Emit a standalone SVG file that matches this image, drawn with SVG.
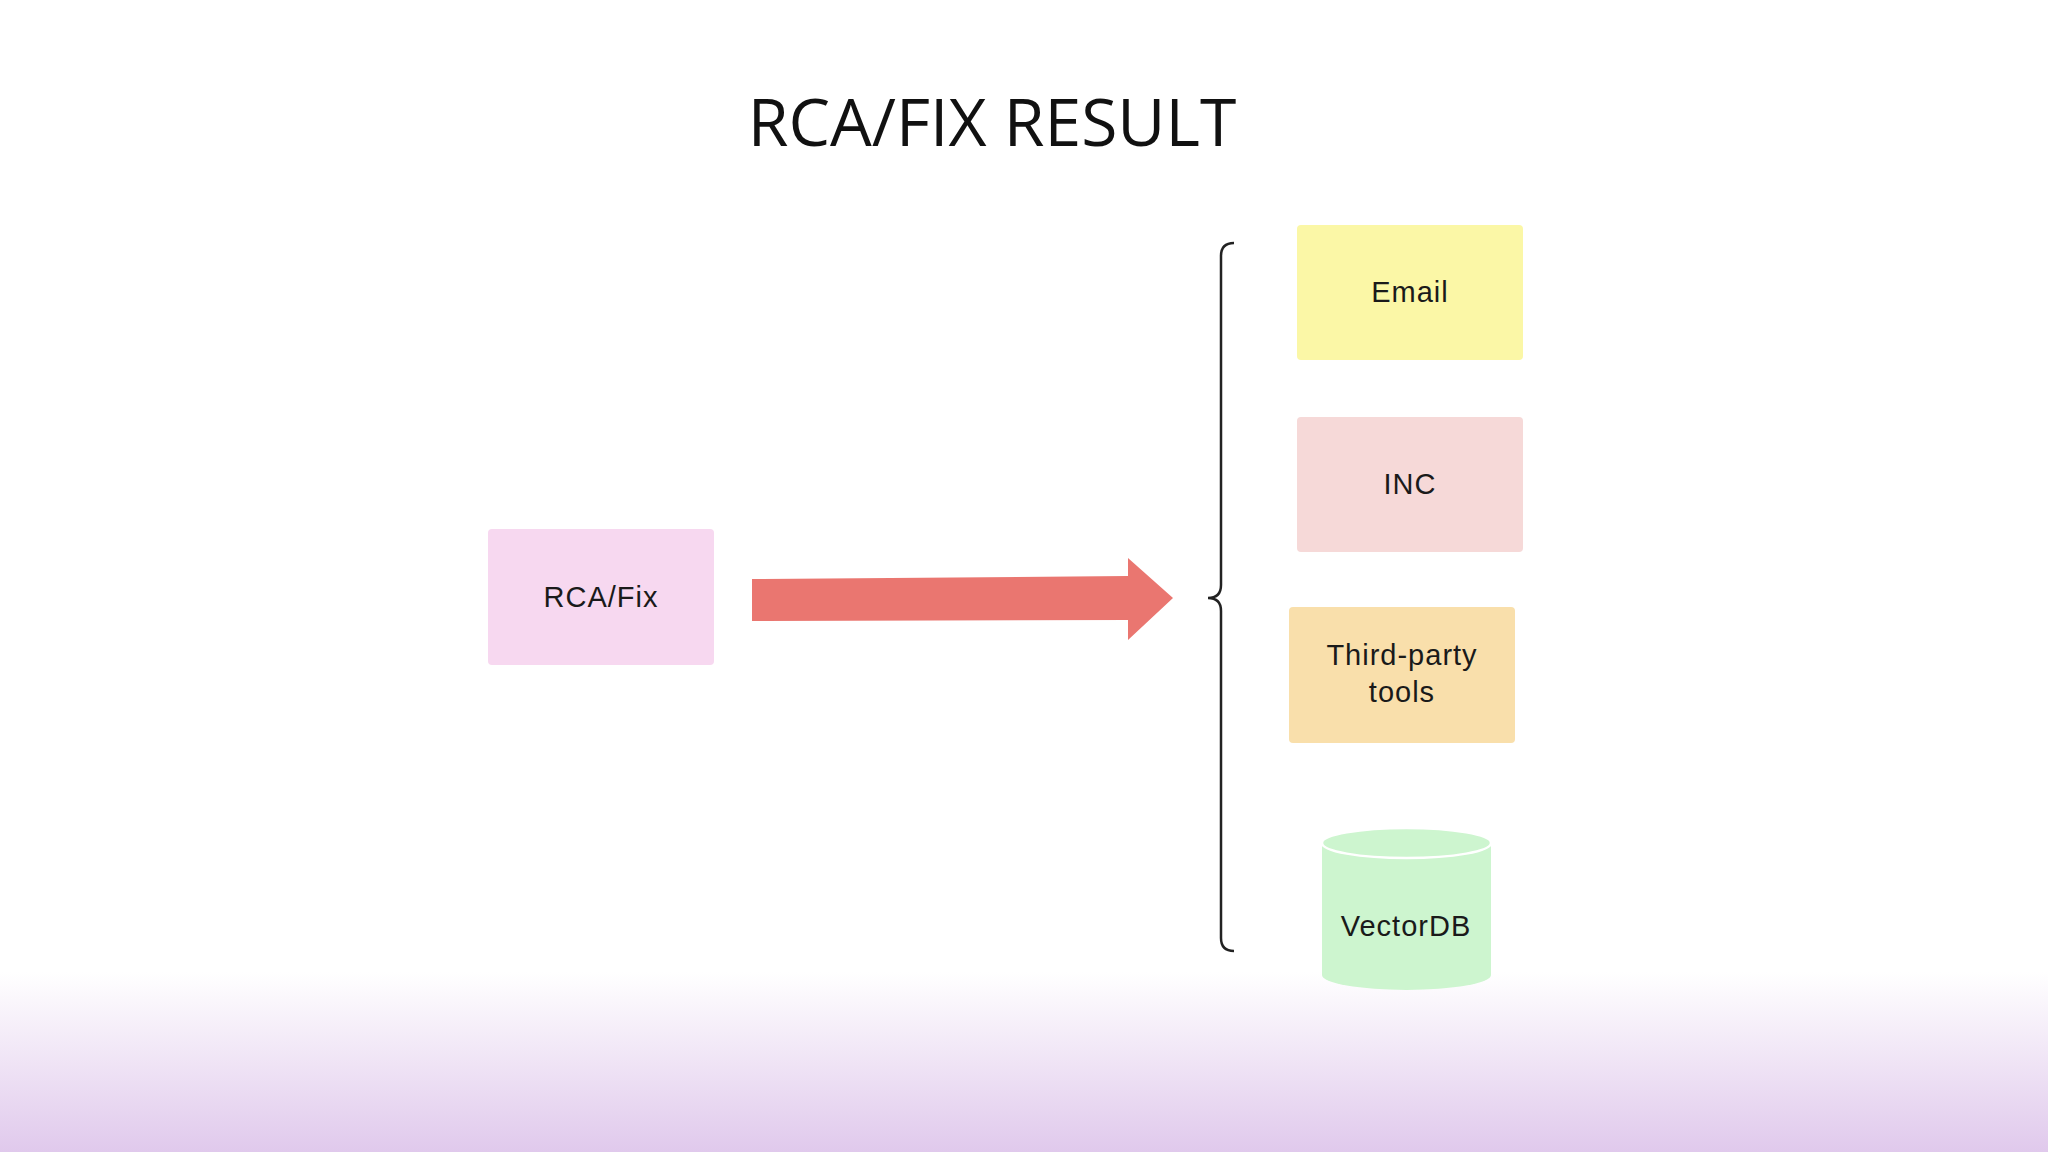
<svg xmlns="http://www.w3.org/2000/svg" width="2048" height="1152" viewBox="0 0 2048 1152">
<defs>
<linearGradient id="bg" x1="0" y1="0" x2="0" y2="1">
<stop offset="0" stop-color="#ffffff"/>
<stop offset="1" stop-color="#e0c9ec"/>
</linearGradient>
<style>
.lbl{font-family:"Liberation Sans","Noto Sans",sans-serif;font-size:29px;font-weight:500;letter-spacing:1px;fill:#1a1a1a;text-anchor:middle}
</style>
</defs>
<rect width="2048" height="1152" fill="#ffffff"/>
<rect x="0" y="972" width="2048" height="180" fill="url(#bg)"/>
<text x="992" y="146" font-family="Open Sans, Noto Sans, sans-serif" font-size="66" fill="#111" text-anchor="middle">RCA/FIX RESULT</text>
<g id="rcafix"><rect x="488" y="529" width="226" height="136" rx="4" fill="#f7d8f0"/><text class="lbl" x="601" y="607">RCA/Fix</text></g>
<g id="email"><rect x="1297" y="225" width="226" height="135" rx="4" fill="#fbf7a6"/><text class="lbl" x="1410" y="302">Email</text></g>
<g id="inc"><rect x="1297" y="417" width="226" height="135" rx="4" fill="#f6d9d8"/><text class="lbl" x="1410" y="494">INC</text></g>
<g id="third"><rect x="1289" y="607" width="226" height="136" rx="4" fill="#f9dfab"/><text class="lbl" x="1402" y="665">Third-party</text><text class="lbl" x="1402" y="702">tools</text></g>
<g id="vectordb"><path d="M1322 843 V975 A84.5 15 0 0 0 1491 975 V843" fill="#cdf5cf"/><ellipse cx="1406.5" cy="843" rx="84.5" ry="15" fill="#cdf5cf" stroke="#ffffff" stroke-width="2.5"/><text class="lbl" x="1406" y="936">VectorDB</text></g>
<g id="connectors">
<path d="M752 579 L1128 576 L1128 558 L1173 598 L1128 640 L1128 620 L752 621 Z" fill="#ea7670"/>
<path d="M1234 243 Q1221 243 1221 256 V585 Q1221 598 1208 598 Q1221 598 1221 611 V938 Q1221 951 1234 951" fill="none" stroke="#222" stroke-width="2.5"/>
</g>
</svg>
